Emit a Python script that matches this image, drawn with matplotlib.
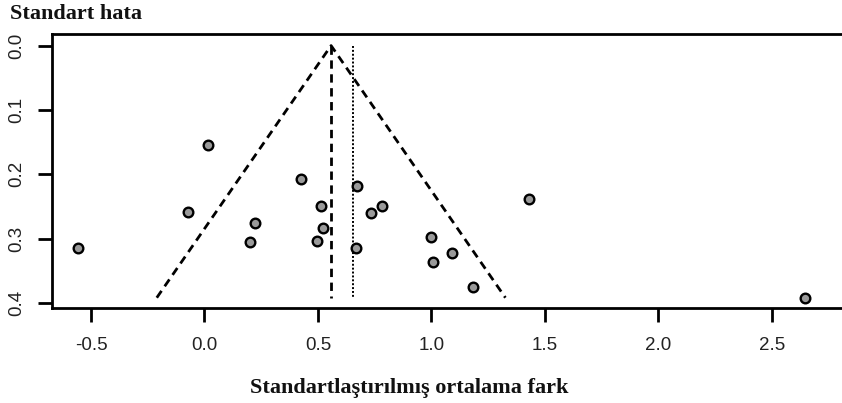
import matplotlib
matplotlib.use("Agg")
import matplotlib.pyplot as plt
import numpy as np

# Data
effect = [-0.559, -0.071, 0.201, 0.224, 0.425, 0.017, 0.674, 0.514, 0.521,
          0.497, 0.667, 0.734, 0.781, 0.999, 1.009, 1.090, 1.185, 1.432, 2.648]
se = [0.315, 0.258, 0.305, 0.276, 0.207, 0.155, 0.218, 0.250, 0.283,
      0.304, 0.314, 0.260, 0.250, 0.298, 0.336, 0.323, 0.375, 0.239, 0.393]
pooled_fixed = 0.558
pooled_random = 0.656
se_max = 0.392
xticks = [-0.5, 0.0, 0.5, 1.0, 1.5, 2.0, 2.5]
yticks = [0.0, 0.1, 0.2, 0.3, 0.4]

fig = plt.figure(figsize=(8.42, 4.03), dpi=100)
ax = fig.add_axes([0.0618, 0.2357, 0.9382, 0.6799])

# funnel
ax.plot([pooled_fixed - 1.96 * se_max, pooled_fixed, pooled_fixed + 1.96 * se_max],
        [se_max, 0.0, se_max], color="black", lw=2.0, ls=(0, (3, 2)))
ax.plot([pooled_fixed, pooled_fixed], [0.0, se_max], color="black", lw=2.0, ls=(0, (3, 2)))
ax.plot([pooled_random, pooled_random], [0.0, se_max], color="black", lw=1.4, ls=(0, (1, 1)))

ax.scatter(effect, se, s=48, facecolor="#9a9a9a", edgecolor="black", linewidths=1.7, zorder=3)

ax.set_xlim(-0.672, 2.81)
ax.set_ylim(0.408, -0.018)
ax.set_xticks(xticks)
ax.set_xticklabels([f"{v:.1f}" for v in xticks])
ax.set_yticks(yticks)
ax.set_yticklabels([f"{v:.1f}" for v in yticks], rotation=90, va="center")

for s in ["left", "bottom", "top"]:
    ax.spines[s].set_linewidth(2.0)
ax.spines["right"].set_visible(False)
ax.tick_params(axis="both", direction="out", length=10, width=2.0,
               labelsize=13.5, labelcolor="#222222")
ax.tick_params(axis="x", pad=11)
ax.tick_params(axis="y", pad=9)
for lab in ax.get_xticklabels() + ax.get_yticklabels():
    lab.set_family("Liberation Sans")

fig.text(0.012, 0.965, "Standart hata", family="Liberation Serif", weight="bold",
         fontsize=16, ha="left", va="center", color="#111111")
fig.text(0.486, 0.037, "Standartlaştırılmış ortalama fark", family="Liberation Serif",
         weight="bold", fontsize=16, ha="center", va="center", color="#111111")

fig.savefig("out.png", dpi=100)
